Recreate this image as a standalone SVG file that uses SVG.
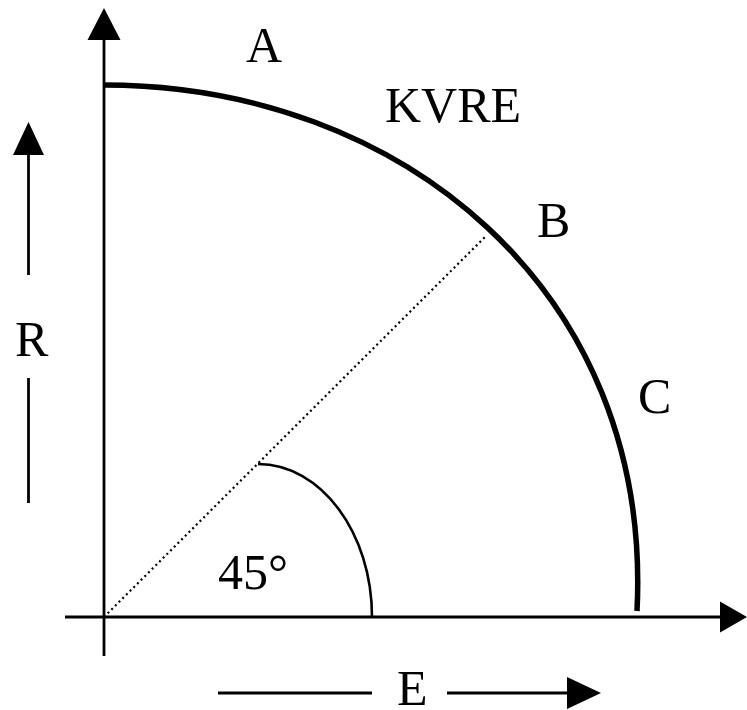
<svg xmlns="http://www.w3.org/2000/svg" width="747" height="710" viewBox="0 0 747 710">
<style>
text{font-family:"Liberation Serif","Times New Roman",serif;font-size:50px;fill:#000}
.ax{stroke:#000;stroke-width:2.8;fill:none}
.head{fill:#000;stroke:none}
</style>
<rect width="747" height="710" fill="#fff"/>
<g id="connectors">
  <line class="ax" x1="104" y1="38" x2="104" y2="656"/>
  <polygon class="head" points="104,8 87.5,40 120.5,40"/>
  <line class="ax" x1="65" y1="617" x2="722" y2="617"/>
  <polygon class="head" points="747,617 720,601.5 720,632.5"/>
  <line class="ax" x1="28.5" y1="152" x2="28.5" y2="275"/>
  <polygon class="head" points="28.5,122 13,155 44,155"/>
  <line class="ax" x1="28.5" y1="378" x2="28.5" y2="503"/>
  <line class="ax" x1="218" y1="693" x2="372" y2="693"/>
  <line class="ax" x1="447" y1="693" x2="570" y2="693"/>
  <polygon class="head" points="601,693 567,677 567,709"/>
  <line x1="104" y1="617" x2="486" y2="236" stroke="#000" stroke-width="2.2" stroke-dasharray="2,3.2"/>
  <path d="M104,85 C400,85 653,290 637,611" fill="none" stroke="#000" stroke-width="5.5"/>
  <path d="M258,464 C321,464 372,533 372,617" fill="none" stroke="#000" stroke-width="2.6"/>
</g>
<g id="label-A"><text x="246" y="62">A</text></g>
<g id="label-KVRE"><text x="385" y="122">KVRE</text></g>
<g id="label-B"><text x="537" y="237">B</text></g>
<g id="label-C"><text x="638" y="413">C</text></g>
<g id="label-R"><text x="15" y="356">R</text></g>
<g id="label-45"><text x="218" y="589">45°</text></g>
<g id="label-E"><text x="397" y="705">E</text></g>
</svg>
